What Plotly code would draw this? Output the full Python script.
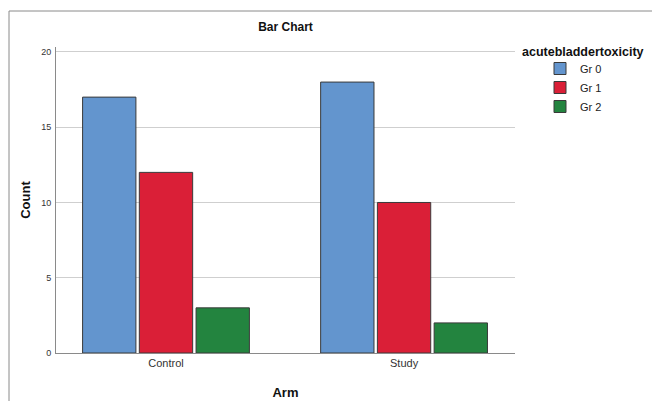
import plotly.graph_objects as go

arms = ["Control", "Study"]
groups = ["Gr 0", "Gr 1", "Gr 2"]
counts = {
    "Gr 0": [17, 18],
    "Gr 1": [12, 10],
    "Gr 2": [3, 2],
}
colors = {"Gr 0": "#6395CE", "Gr 1": "#DA1F37", "Gr 2": "#23843F"}
y_ticks = [0, 5, 10, 15, 20]

FONT = "Liberation Sans, Arial, sans-serif"

fig = go.Figure()
for g in groups:
    fig.add_trace(go.Bar(
        x=arms, y=counts[g], name=g,
        marker=dict(color=colors[g], line=dict(color="#3a3a3a", width=1)),
    ))

fig.update_layout(
    width=652, height=401,
    margin=dict(l=56, r=137, t=47, b=48, autoexpand=False),
    paper_bgcolor="white", plot_bgcolor="white",
    barmode="group", bargap=0.285, bargroupgap=0.06,
    font=dict(family=FONT, color="#333333", size=11),
    title=dict(text="Bar Chart", x=(56 + 515) / 2 / 652, xanchor="center",
               y=1 - 27 / 401, yanchor="middle",
               font=dict(family=FONT, size=12, color="#111111", weight="bold")),
    showlegend=True,
    legend=dict(x=(540 - 56) / 459, xanchor="left", y=1 - (54 - 47) / 306, yanchor="top",
                font=dict(family=FONT, size=11, color="#222222"),
                bgcolor="rgba(0,0,0,0)", itemwidth=30, tracegroupgap=0),
    xaxis=dict(range=[-0.462, 1.466], showline=True, linecolor="#8a8a8a", linewidth=1,
               ticks="", tickfont=dict(size=11, color="#333333"), automargin=False,
               title=dict(text="Arm", standoff=19,
                          font=dict(family=FONT, size=13, color="#111111", weight="bold"))),
    yaxis=dict(range=[0, 20.33], tickvals=y_ticks, showline=True, linecolor="#8a8a8a",
               linewidth=1, showgrid=True, gridcolor="#cfcfcf", gridwidth=1, zeroline=False,
               ticks="", tickfont=dict(size=9, color="#333333"), ticklabelstandoff=2,
               automargin=False,
               title=dict(text="Count", standoff=7,
                          font=dict(family=FONT, size=13, color="#111111", weight="bold"))),
    annotations=[dict(text="acutebladdertoxicity", xref="paper", yref="paper",
                      x=(520 - 56) / 459, xanchor="left", y=1 - (52 - 47) / 306, yanchor="middle",
                      showarrow=False,
                      font=dict(family=FONT, size=12.5, color="#111111", weight="bold"))],
    shapes=[dict(type="rect", xref="paper", yref="paper",
                 x0=(9 - 56) / 459, x1=2.0, y0=-1.0, y1=1 + (47 - 11) / 306,
                 line=dict(color="#8a8a8a", width=1), layer="below")],
)

fig.write_html("out.html", config={"displayModeBar": False},
               post_script="document.body.style.margin='0';document.body.style.overflow='hidden';")
